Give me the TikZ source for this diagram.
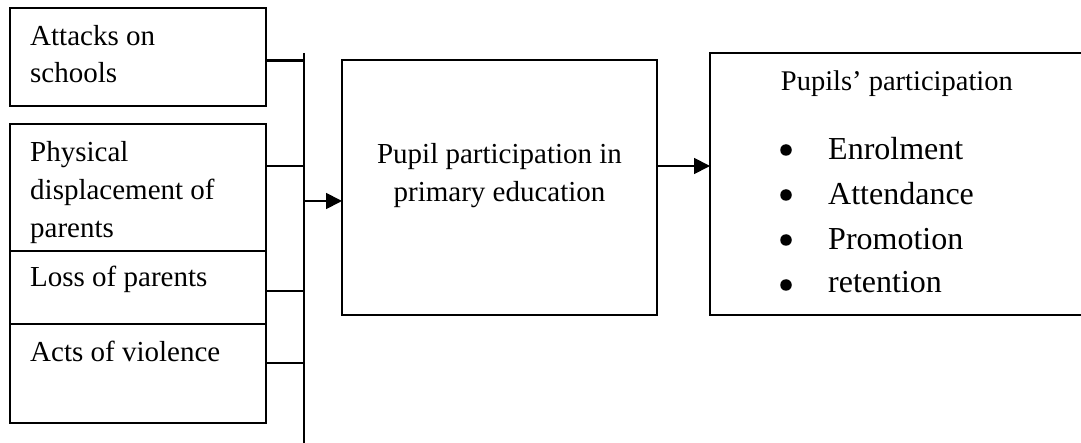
\documentclass[tikz,border=0pt]{standalone}
\usepackage{fontspec}
\setmainfont{Liberation Serif}
\usetikzlibrary{arrows.meta}
\begin{document}
\begin{tikzpicture}[x=1pt,y=-1pt,
  box/.style={draw, line width=1.3pt, inner sep=0pt, outer sep=0pt, anchor=north west},
  lbl/.style={anchor=base west, inner sep=0pt, font=\fontsize{29}{35}\selectfont},
  mid/.style={anchor=base, inner sep=0pt, font=\fontsize{29}{35}\selectfont},
  head/.style={anchor=base west, inner sep=0pt, font=\fontsize{28.5}{34}\selectfont},
  item/.style={anchor=base west, inner sep=0pt, font=\fontsize{32}{38}\selectfont},
  dot/.style={circle, fill=black, inner sep=0pt, minimum size=11.5pt},
  link/.style={line width=1.8pt},
  arr/.style={line width=1.8pt, -{Triangle[length=16pt,width=16pt]}}]
\path[use as bounding box, clip] (0,0) rectangle (1081,443);

% boxes
\node[box, minimum width=256pt, minimum height=98pt]  (b1) at (10,8) {};
\node[box, minimum width=256pt, minimum height=127pt] (b2) at (10,124) {};
\node[box, minimum width=256pt, minimum height=73pt]  (b3) at (10,251) {};
\node[box, minimum width=256pt, minimum height=99pt]  (b4) at (10,324) {};
\node[box, minimum width=315pt, minimum height=255pt] (m)  at (342,60) {};
\node[box, minimum width=390pt, minimum height=262pt] (r)  at (710,53) {};

% left texts
\node[lbl] (t1a) at (30,45.7) {Attacks on};
\node[lbl] (t1b) at (30,82.7) {schools};
\node[lbl] (t2a) at (30,162) {Physical};
\node[lbl] (t2b) at (30,200) {displacement of};
\node[lbl] (t2c) at (30,238) {parents};
\node[lbl] (t3) at (30,287) {Loss of parents};
\node[lbl] (t4) at (30,362) {Acts of violence};

% middle texts
\node[mid] (tma) at (499.5,163.3) {Pupil participation in};
\node[mid] (tmb) at (499.5,201.7) {primary education};

% right texts
\node[head] (th) at (780.7,90.7) {Pupils’ participation};
\node[dot] (d1) at (786,150) {};
\node[dot] (d2) at (786,195) {};
\node[dot] (d3) at (786,240) {};
\node[dot] (d4) at (786,285) {};
\node[item] (i1) at (828,160) {Enrolment};
\node[item] (i2) at (828,205) {Attendance};
\node[item] (i3) at (828,250) {Promotion};
\node[item] (i4) at (828,293) {retention};

% bus
\coordinate (bt) at (304,53);
\coordinate (bb) at (304,443);
\draw[link] (bt) -- (bb);
\coordinate (j1) at (304,60.7);
\coordinate (j2) at (304,166);
\coordinate (j3) at (304,291);
\coordinate (j4) at (304,363);
\draw[link, line width=2.6pt] (b1.east |- j1) -- (j1);
\draw[link] (b2.east |- j2) -- (j2);
\draw[link] (b3.east |- j3) -- (j3);
\draw[link] (b4.east |- j4) -- (j4);

% arrows
\coordinate (ja) at (304,201);
\draw[arr] (ja) -- (m.west |- ja);
\coordinate (lvl) at (0,166);
\draw[arr] (m.east |- lvl) -- (r.west |- lvl);
\end{tikzpicture}
\end{document}
